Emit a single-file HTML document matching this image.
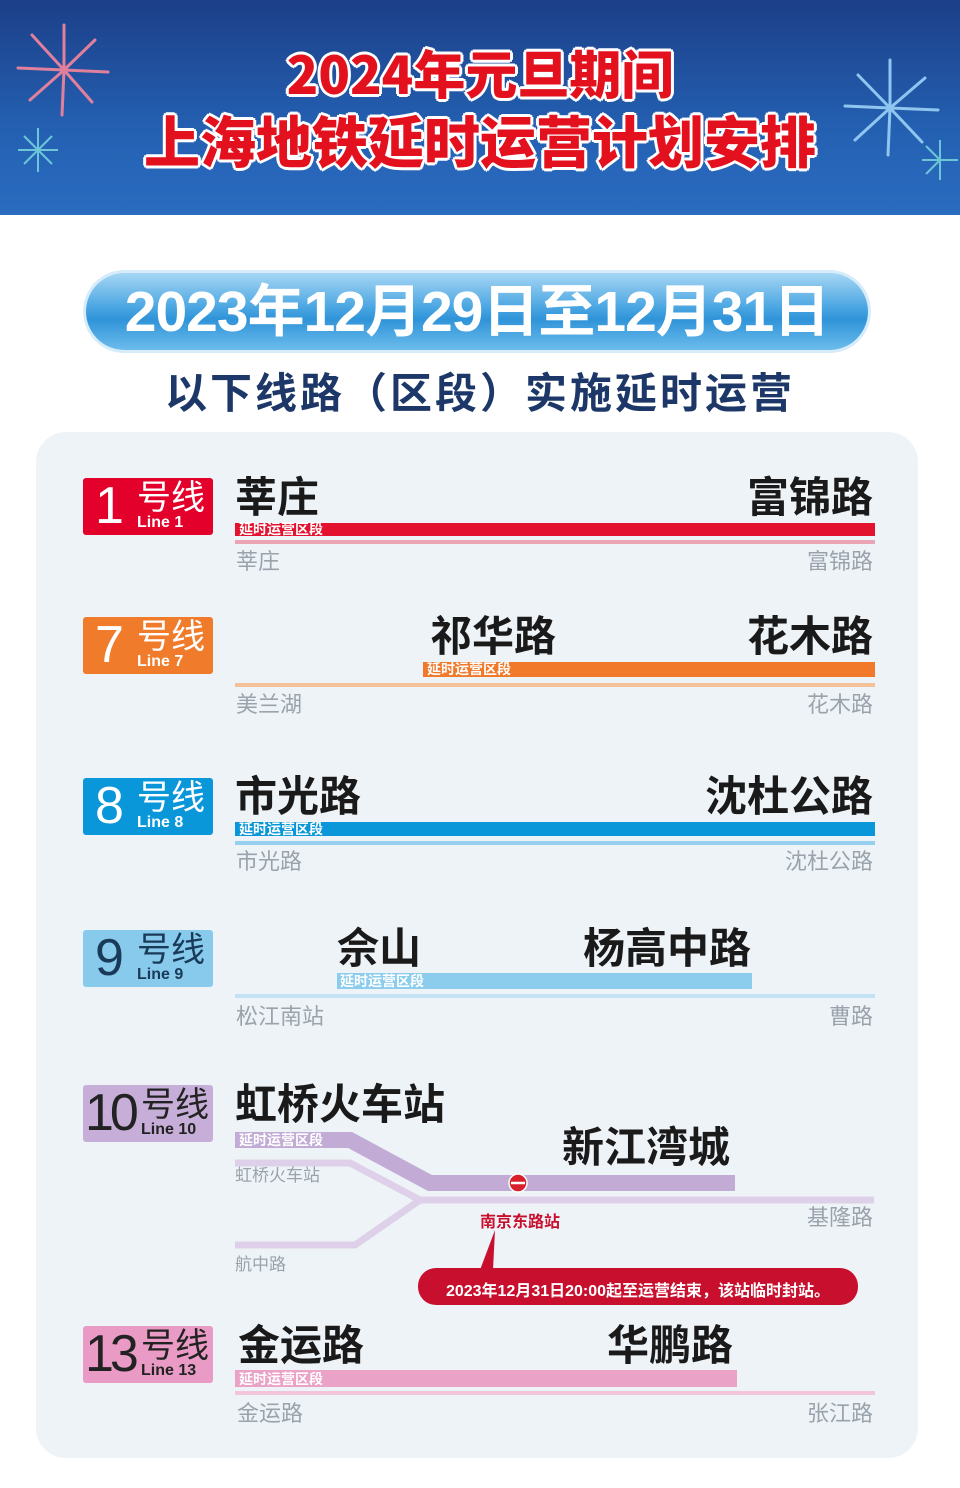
<!DOCTYPE html>
<html><head><meta charset="utf-8"><style>
*{margin:0;padding:0;box-sizing:border-box}
body{width:960px;height:1488px;background:#fff;position:relative;overflow:hidden;font-family:"Liberation Sans","Noto Sans CJK SC",sans-serif}
.a{position:absolute;white-space:nowrap}
.hdr{left:0;top:0;width:960px;height:215px;background:linear-gradient(#1c3f88,#2460b2 60%,#2a6cc0)}
.t{color:#e3101e;font-family:"Noto Sans CJK SC",sans-serif;font-weight:900;text-shadow:2px 2px 0 #fff,-2px -2px 0 #fff,2px -2px 0 #fff,-2px 2px 0 #fff,0 3px 0 #fff,3px 0 0 #fff,-3px 0 0 #fff,0 -3px 0 #fff}
.pill{left:83px;top:270px;width:788px;height:83px;border-radius:42px;background:linear-gradient(#a6d6f4,#4aa6e2 45%,#2f93d8 60%,#6cbcec);border:3px solid #d6ecfa;color:#fff;font-weight:bold;font-size:57px;text-align:center;line-height:78px;letter-spacing:-1px}
.sub{left:0;width:960px;top:360px;text-align:center;color:#1d3868;font-weight:bold;font-size:42px;letter-spacing:3px}
.panel{left:36px;top:432px;width:882px;height:1026px;border-radius:30px;background:#eef3f8}
.badge{width:130px;height:57px;border-radius:3px;color:#fff}
.badge .n{position:absolute;left:12px;top:0;font-size:52px;line-height:57px}
.badge .h{position:absolute;left:54px;top:1px;font-size:34px;line-height:38px}
.badge .l{position:absolute;left:54px;top:36px;font-size:16px;font-weight:bold;line-height:18px}
.st{font-weight:bold;font-size:42px;color:#1a1a1a;line-height:44px}
.g{font-size:22px;color:#9aa3ab;line-height:26px}
.bar{height:13px}
.lab{font-size:14px;color:#fff;font-weight:bold;line-height:14px}
.thin{height:4px}
</style></head><body>
<div class="a hdr"></div>
<svg class="a" style="left:0;top:0" width="960" height="215">
<g stroke="#e0809c" stroke-width="3" stroke-linecap="round">
<line x1="64" y1="70" x2="64" y2="25"/><line x1="64" y1="70" x2="95" y2="40"/><line x1="64" y1="70" x2="108" y2="72"/><line x1="64" y1="70" x2="92" y2="102"/><line x1="64" y1="70" x2="62" y2="115"/><line x1="64" y1="70" x2="30" y2="100"/><line x1="64" y1="70" x2="18" y2="68"/><line x1="64" y1="70" x2="32" y2="35"/></g>
<g stroke="#6cc6d8" stroke-width="2"><line x1="38" y1="150" x2="38" y2="128"/><line x1="38" y1="150" x2="58" y2="150"/><line x1="38" y1="150" x2="38" y2="172"/><line x1="38" y1="150" x2="18" y2="150"/><line x1="38" y1="150" x2="52" y2="136"/><line x1="38" y1="150" x2="24" y2="164"/><line x1="38" y1="150" x2="52" y2="164"/><line x1="38" y1="150" x2="24" y2="136"/></g>
<g stroke="#8fc6f0" stroke-width="3" stroke-linecap="round"><line x1="890" y1="108" x2="890" y2="60"/><line x1="890" y1="108" x2="925" y2="78"/><line x1="890" y1="108" x2="938" y2="110"/><line x1="890" y1="108" x2="922" y2="142"/><line x1="890" y1="108" x2="888" y2="155"/><line x1="890" y1="108" x2="855" y2="140"/><line x1="890" y1="108" x2="845" y2="106"/><line x1="890" y1="108" x2="858" y2="75"/></g>
<g stroke="#6cc6d8" stroke-width="2"><line x1="940" y1="160" x2="940" y2="140"/><line x1="940" y1="160" x2="958" y2="160"/><line x1="940" y1="160" x2="940" y2="180"/><line x1="940" y1="160" x2="922" y2="160"/><line x1="940" y1="160" x2="926" y2="146"/><line x1="940" y1="160" x2="926" y2="174"/></g>
</svg>
<div class="a t" style="left:0;width:960px;text-align:center;top:40px;line-height:64px;font-size:52px">2024年元旦期间</div>
<div class="a t" style="left:0;width:960px;text-align:center;top:108px;line-height:64px;font-size:56px">上海地铁延时运营计划安排</div>
<div class="a pill">2023年12月29日至12月31日</div>
<div class="a sub">以下线路（区段）实施延时运营</div>
<div class="a panel"></div>

<!-- Line 1 -->
<div class="a badge" style="left:83px;top:478px;background:#e3002b"><span class="n">1</span><span class="h">号线</span><span class="l">Line 1</span></div>
<div class="a st" style="left:235px;top:476px">莘庄</div>
<div class="a st" style="right:87px;top:476px">富锦路</div>
<div class="a bar" style="left:235px;top:523px;width:640px;background:#e3132f"></div>
<div class="a lab" style="left:239px;top:522px">延时运营区段</div>
<div class="a thin" style="left:235px;top:540px;width:640px;background:#eaa5b4"></div>
<div class="a g" style="left:236px;top:549px">莘庄</div>
<div class="a g" style="right:87px;top:549px">富锦路</div>

<!-- Line 7 -->
<div class="a badge" style="left:83px;top:617px;background:#f07b2a"><span class="n">7</span><span class="h">号线</span><span class="l">Line 7</span></div>
<div class="a st" style="left:430px;top:615px">祁华路</div>
<div class="a st" style="right:87px;top:615px">花木路</div>
<div class="a bar" style="left:423px;top:662px;width:452px;height:15px;background:#f0792a"></div>
<div class="a lab" style="left:427px;top:662px">延时运营区段</div>
<div class="a thin" style="left:235px;top:683px;width:640px;background:#f3c29a"></div>
<div class="a g" style="left:236px;top:692px">美兰湖</div>
<div class="a g" style="right:87px;top:692px">花木路</div>

<!-- Line 8 -->
<div class="a badge" style="left:83px;top:778px;background:#0a97d9"><span class="n">8</span><span class="h">号线</span><span class="l">Line 8</span></div>
<div class="a st" style="left:235px;top:775px">市光路</div>
<div class="a st" style="right:87px;top:775px">沈杜公路</div>
<div class="a bar" style="left:235px;top:822px;width:640px;height:14px;background:#0a97d9"></div>
<div class="a lab" style="left:239px;top:822px">延时运营区段</div>
<div class="a thin" style="left:235px;top:841px;width:640px;background:#96d0ee"></div>
<div class="a g" style="left:236px;top:849px">市光路</div>
<div class="a g" style="right:87px;top:849px">沈杜公路</div>

<!-- Line 9 -->
<div class="a badge" style="left:83px;top:930px;background:#87caec;color:#1a3a5a"><span class="n">9</span><span class="h">号线</span><span class="l">Line 9</span></div>
<div class="a st" style="left:337px;top:927px">佘山</div>
<div class="a st" style="left:583px;top:927px">杨高中路</div>
<div class="a bar" style="left:337px;top:973px;width:415px;height:16px;background:#8ccdee"></div>
<div class="a lab" style="left:340px;top:974px">延时运营区段</div>
<div class="a thin" style="left:235px;top:994px;width:640px;background:#c3e3f4"></div>
<div class="a g" style="left:236px;top:1004px">松江南站</div>
<div class="a g" style="right:87px;top:1004px">曹路</div>

<!-- Line 10 -->
<div class="a badge" style="left:83px;top:1085px;background:#c6aed8;color:#222"><span class="n" style="left:2px;letter-spacing:-4px">10</span><span class="h" style="left:58px">号线</span><span class="l" style="left:58px">Line 10</span></div>
<div class="a st" style="left:235px;top:1083px">虹桥火车站</div>
<div class="a st" style="left:562px;top:1126px">新江湾城</div>
<svg class="a" style="left:0;top:1100px" width="960" height="220">
<polyline points="235,63 350,63 420,100 874,100" fill="none" stroke="#ddd0e8" stroke-width="7"/>
<polyline points="235,145 355,145 420,100" fill="none" stroke="#ddd0e8" stroke-width="7"/>
<polyline points="235,40 350,40 430,83 735,83" fill="none" stroke="#c2acd6" stroke-width="16"/>
<circle cx="518" cy="83" r="9" fill="#d8202c" stroke="#fff" stroke-width="1.5"/>
<line x1="511" y1="83" x2="525" y2="83" stroke="#fff" stroke-width="2.5"/>
<path d="M480,170 L495,130 L493,170 Z" fill="#c8102e"/>
<rect x="418" y="168" width="440" height="37" rx="18" fill="#c8102e"/>
</svg>
<div class="a lab" style="left:239px;top:1133px">延时运营区段</div>
<div class="a" style="left:235px;top:1161px;font-size:17px;color:#9aa3ab">虹桥火车站</div>
<div class="a" style="left:235px;top:1250px;font-size:17px;color:#9aa3ab">航中路</div>
<div class="a g" style="right:87px;top:1205px">基隆路</div>
<div class="a" style="left:480px;top:1208px;font-size:16px;font-weight:bold;color:#c8102e">南京东路站</div>
<div class="a" style="left:418px;top:1277px;width:440px;text-align:center;font-size:16px;font-weight:bold;color:#fff">2023年12月31日20:00起至运营结束，该站临时封站。</div>

<!-- Line 13 -->
<div class="a badge" style="left:83px;top:1326px;background:#e99bc5;color:#222"><span class="n" style="left:2px;letter-spacing:-4px">13</span><span class="h" style="left:58px">号线</span><span class="l" style="left:58px">Line 13</span></div>
<div class="a st" style="left:238px;top:1324px">金运路</div>
<div class="a st" style="left:607px;top:1324px">华鹏路</div>
<div class="a bar" style="left:235px;top:1370px;width:502px;height:17px;background:#eba2c7"></div>
<div class="a lab" style="left:239px;top:1372px">延时运营区段</div>
<div class="a thin" style="left:235px;top:1391px;width:640px;background:#f1c6dc"></div>
<div class="a g" style="left:237px;top:1401px">金运路</div>
<div class="a g" style="right:87px;top:1401px">张江路</div>
</body></html>
